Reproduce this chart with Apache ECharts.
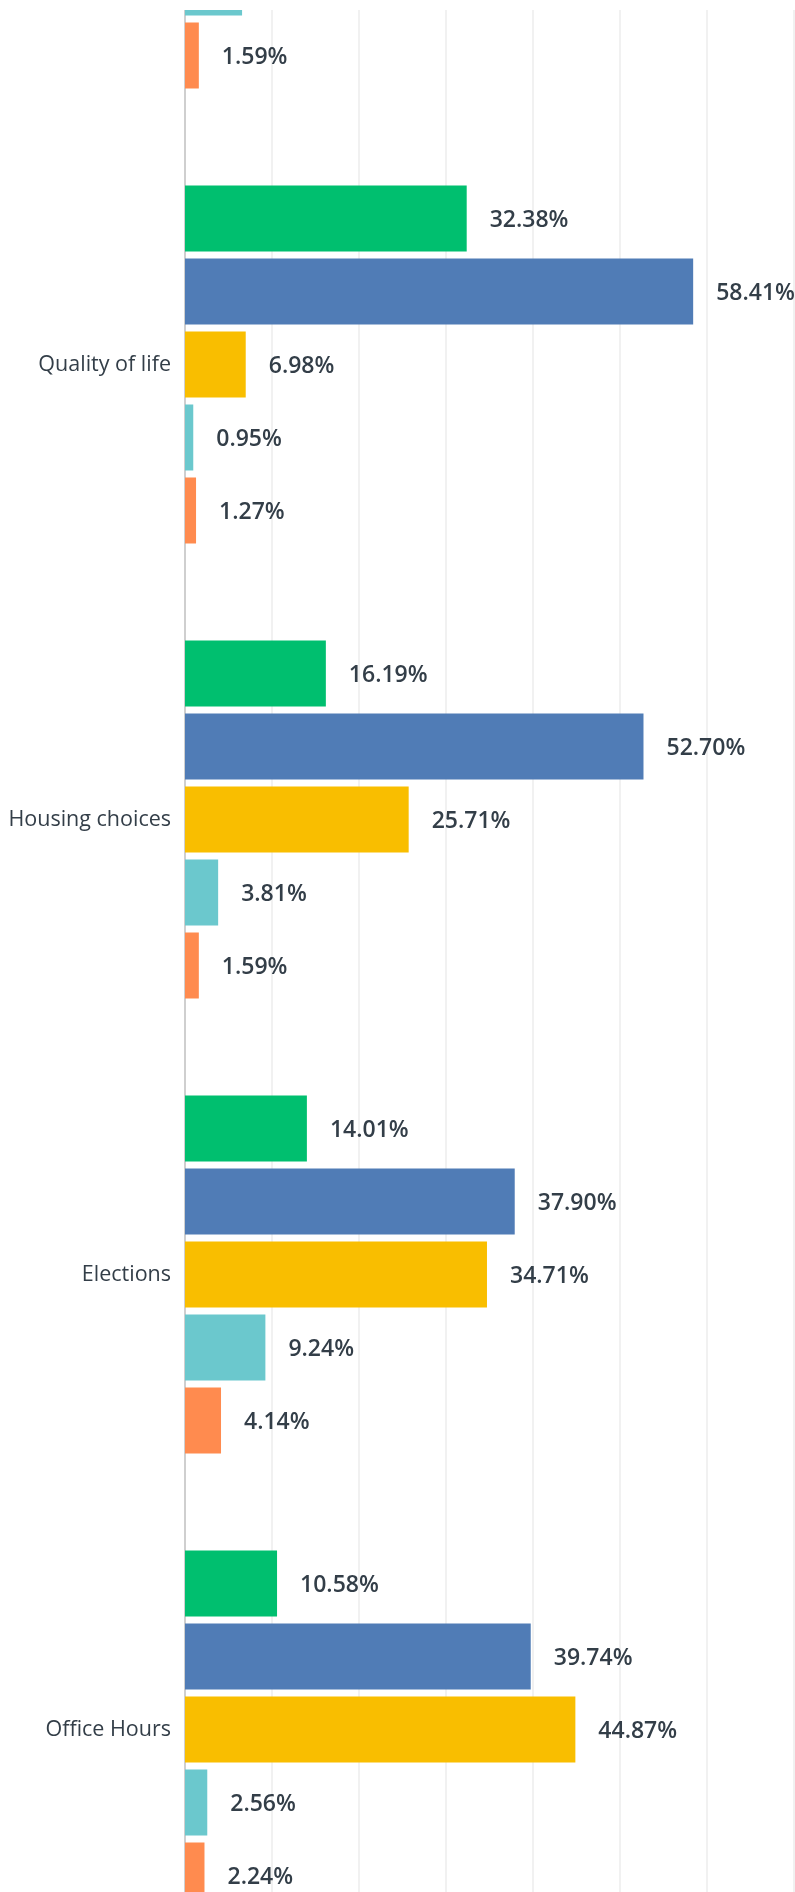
<!DOCTYPE html>
<html>
<head>
<meta charset="utf-8">
<script src="https://cdn.jsdelivr.net/npm/echarts@6/dist/echarts.min.js"></script>
<style>
  html, body { margin: 0; padding: 0; background: #fff; overflow: hidden; }
  #clip { position: absolute; left: 0; top: 10px; width: 795px; height: 1882px; overflow: hidden; }
  #chart { position: absolute; left: 0; top: -328px; width: 1075px; height: 2295px; }
</style>
</head>
<body>
<div id="clip"><div id="chart"></div></div>
<script>
// Categories (first one is scrolled out of view in the reference; its name is not visible)
const categories = ['', 'Quality of life', 'Housing choices', 'Elections', 'Office Hours'];
// Series values (%), one array per answer option; null = not visible in the reference
const greenValues  = [null, 32.38, 16.19, 14.01, 10.58];
const blueValues   = [null, 58.41, 52.70, 37.90, 39.74];
const yellowValues = [null, 6.98, 25.71, 34.71, 44.87];
const tealValues   = [6.56, 0.95, 3.81, 9.24, 2.56];
const orangeValues = [1.59, 1.27, 1.59, 4.14, 2.24];
const seriesNames  = ['Option 1', 'Option 2', 'Option 3', 'Option 4', 'Option 5'];
const seriesColors = ['#00BF6F', '#507CB6', '#F9BE00', '#6BC8CD', '#FF8B4F'];

const allValues = [greenValues, blueValues, yellowValues, tealValues, orangeValues];

const chart = echarts.init(document.getElementById('chart'), null, { renderer: 'canvas' });
chart.setOption({
  animation: false,
  grid: { left: 185, right: 20, top: 0, bottom: 20, containLabel: false },
  xAxis: {
    type: 'value', min: 0, max: 100, interval: 10,
    axisLine: { show: false }, axisTick: { show: false }, axisLabel: { show: false },
    splitLine: { show: true, lineStyle: { color: '#ececec', width: 1.5 } }
  },
  yAxis: {
    type: 'category', inverse: true, data: categories,
    axisLine: { show: true, lineStyle: { color: '#cfcfcf', width: 2 } },
    axisTick: { show: false },
    axisLabel: { margin: 14, color: '#333E48', fontSize: 21.5, fontFamily: 'Open Sans' }
  },
  series: allValues.map((vals, i) => ({
    name: seriesNames[i],
    type: 'bar',
    data: vals,
    barWidth: 66,
    barGap: '10.6%',
    itemStyle: { color: seriesColors[i] },
    label: {
      show: true, position: 'right', distance: 23, offset: [0, 2],
      color: '#333E48', fontSize: 23, fontWeight: 600, fontFamily: 'Open Sans',
      formatter: p => p.value == null ? '' : p.value.toFixed(2) + '%'
    }
  }))
});
</script>
</body>
</html>
